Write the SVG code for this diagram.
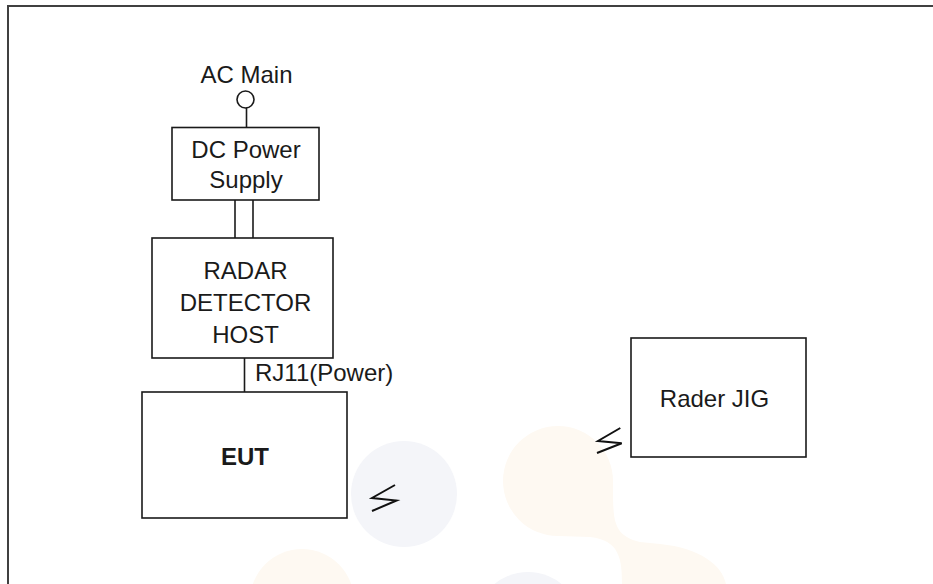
<svg xmlns="http://www.w3.org/2000/svg" width="933" height="584" viewBox="0 0 933 584">
<style>
.box{fill:#fff;stroke:#1a1a1a;stroke-width:1.6}
.ln{fill:none;stroke:#1a1a1a;stroke-width:1.6}
.t{font-family:"Liberation Sans",Arial,sans-serif;font-size:24px;fill:#1a1a1a}
.c{text-anchor:middle}
.bolt{fill:none;stroke:#111;stroke-width:2;stroke-linejoin:miter}
.wo{fill:#fef9f2}
.wb{fill:#f4f5f9}
</style>
<rect width="933" height="584" fill="#fff"/>
<g id="watermark">
<circle class="wb" cx="404" cy="494" r="53"/>
<path class="wo" d="M613 481 C613 520 612 535 640 542 L660 544 C700 548 722 565 726 584 L622 584 C622 560 620 540 590 537 L558 536 A55 55 0 1 1 613 481 Z"/>
<circle class="wo" cx="302" cy="601" r="52"/>
<circle class="wb" cx="528" cy="625" r="53"/>
</g>
<g id="frame">
<line x1="8" y1="6" x2="933" y2="6" stroke="#404040" stroke-width="2"/>
<line x1="8" y1="5" x2="8" y2="584" stroke="#404040" stroke-width="2"/>
</g>
<g id="connectors">
<line class="ln" x1="246.5" y1="108" x2="246.5" y2="128"/>
<line class="ln" x1="235" y1="200" x2="235" y2="238"/>
<line class="ln" x1="253" y1="200" x2="253" y2="238"/>
<line class="ln" x1="244.5" y1="358" x2="244.5" y2="392"/>
<text class="t" x="255" y="381">RJ11(Power)</text>
</g>
<g id="ac-main">
<text class="t c" x="246.5" y="83">AC Main</text>
<circle cx="245.5" cy="99.5" r="8.5" fill="#fff" stroke="#1a1a1a" stroke-width="1.6"/>
</g>
<g id="dc-power-supply">
<rect class="box" x="172" y="127.5" width="147" height="72.5"/>
<text class="t c" x="246" y="158">DC Power</text>
<text class="t c" x="246" y="188">Supply</text>
</g>
<g id="radar-detector-host">
<rect class="box" x="152" y="238" width="181" height="120"/>
<text class="t c" x="245.5" y="279">RADAR</text>
<text class="t c" x="245.5" y="311">DETECTOR</text>
<text class="t c" x="245.5" y="343">HOST</text>
</g>
<g id="eut">
<rect class="box" x="142" y="392" width="205" height="126"/>
<text class="t c" x="245" y="465" font-weight="bold" font-size="25">EUT</text>
<path class="bolt" d="M395 485 L372 498 L396.5 500.5 L372 511"/>
</g>
<g id="rader-jig">
<rect class="box" x="631" y="338" width="175" height="119"/>
<text class="t c" x="714.5" y="407">Rader JIG</text>
<path class="bolt" d="M620.3 428 L598 441 L621.7 443.3 L597 453"/>
</g>
</svg>
